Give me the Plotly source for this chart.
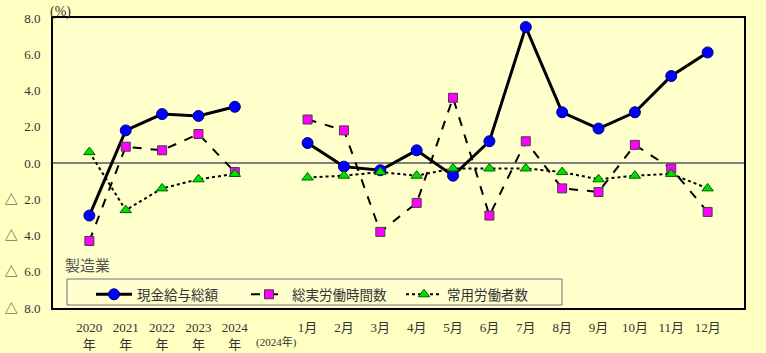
import plotly.graph_objects as go

categories = ["2020<br>年", "2021<br>年", "2022<br>年", "2023<br>年", "2024<br>年", "",
              "1月", "2月", "3月", "4月", "5月", "6月", "7月", "8月", "9月", "10月", "11月", "12月"]
wage = [-2.9, 1.8, 2.7, 2.6, 3.1, None, 1.1, -0.2, -0.4, 0.7, -0.7, 1.2, 7.5, 2.8, 1.9, 2.8, 4.8, 6.1]
hours = [-4.3, 0.9, 0.7, 1.6, -0.5, None, 2.4, 1.8, -3.8, -2.2, 3.6, -2.9, 1.2, -1.4, -1.6, 1.0, -0.3, -2.7]
employees = [0.6, -2.6, -1.4, -0.9, -0.6, None, -0.8, -0.7, -0.5, -0.7, -0.3, -0.3, -0.3, -0.5, -0.9, -0.7, -0.6, -1.4]
y_ticks = [8, 6, 4, 2, 0, -2, -4, -6, -8]
y_tick_text = ["8.0", "6.0", "4.0", "2.0", "0.0",
               "△\u00a0\u00a02.0", "△\u00a0\u00a04.0", "△\u00a0\u00a06.0", "△\u00a0\u00a08.0"]
series_names = ["現金給与総額", "総実労働時間数", "常用労働者数"]

x = list(range(len(categories)))
FONT = "Liberation Serif, Noto Sans CJK JP, serif"
JP = "Noto Sans CJK JP, sans-serif"

# plot area in pixels: x 53..744, y 18..308
def px_x(p):
    return (p - 53) / 691.0

def px_y(p):
    return (308 - p) / 290.0

fig = go.Figure()
fig.add_trace(go.Scatter(
    x=x, y=wage, name=series_names[0], mode="lines+markers",
    line=dict(color="black", width=3),
    marker=dict(symbol="circle", size=11, color="#0000FF", line=dict(color="#000080", width=1)),
    connectgaps=False))
fig.add_trace(go.Scatter(
    x=x, y=hours, name=series_names[1], mode="lines+markers",
    line=dict(color="black", width=2, dash="dash"),
    marker=dict(symbol="square", size=9, color="#FF00FF", line=dict(color="#404040", width=1)),
    connectgaps=False))
fig.add_trace(go.Scatter(
    x=x, y=employees, name=series_names[2], mode="lines+markers",
    line=dict(color="black", width=2, dash="dot"),
    marker=dict(symbol="triangle-up", size=10, color="#00E000", line=dict(color="#006000", width=1)),
    connectgaps=False))

fig.update_layout(
    width=766, height=353,
    margin=dict(l=53, r=22, t=18, b=45, autoexpand=False),
    paper_bgcolor="#FFFFC2",
    plot_bgcolor="#FFFFCC",
    font=dict(family=FONT, size=13, color="#333333"),
    showlegend=True,
    legend=dict(
        orientation="h", x=px_x(91), y=0.1, xanchor="left", yanchor="top",
        bgcolor="rgba(0,0,0,0)", borderwidth=0,
        font=dict(family=JP, size=13.5, color="#333333"),
        entrywidth=104, itemwidth=36,
    ),
    xaxis=dict(
        range=[-1, 18], tickmode="array", tickvals=x, ticktext=categories,
        showgrid=False, zeroline=False, ticks="", ticklabelstandoff=6, automargin=False,
        showline=True, linecolor="black", linewidth=2, mirror=True,
        tickfont=dict(family=FONT, size=13, color="#333333"),
    ),
    yaxis=dict(
        range=[-8, 8], tickmode="array", tickvals=y_ticks, ticktext=y_tick_text,
        showgrid=False, zeroline=True, zerolinecolor="#808080", zerolinewidth=2,
        ticks="", ticklabelstandoff=8, automargin=False,
        showline=True, linecolor="black", linewidth=2, mirror=True,
        tickfont=dict(family=FONT, size=13, color="#333333"),
    ),
    shapes=[
        dict(type="rect", xref="paper", yref="paper",
             x0=px_x(67), x1=px_x(562), y0=px_y(305), y1=px_y(279),
             line=dict(color="#707070", width=1), fillcolor="#FFFFD0", layer="below"),
    ],
    annotations=[
        dict(text="(%)", x=px_x(48), y=px_y(22), xref="paper", yref="paper", xanchor="left", yanchor="bottom",
             showarrow=False, font=dict(family=FONT, size=14, color="#333333")),
        dict(text="製造業", x=px_x(63), y=px_y(277), xref="paper", yref="paper", xanchor="left", yanchor="bottom",
             showarrow=False, font=dict(family=JP, size=15, color="#555555")),
        dict(text="(2024年)", x=5.15, y=px_y(333), xref="x", yref="paper", xanchor="center", yanchor="top",
             showarrow=False, font=dict(family=FONT, size=11, color="#333333")),
    ],
)

fig.write_html("out.html")
